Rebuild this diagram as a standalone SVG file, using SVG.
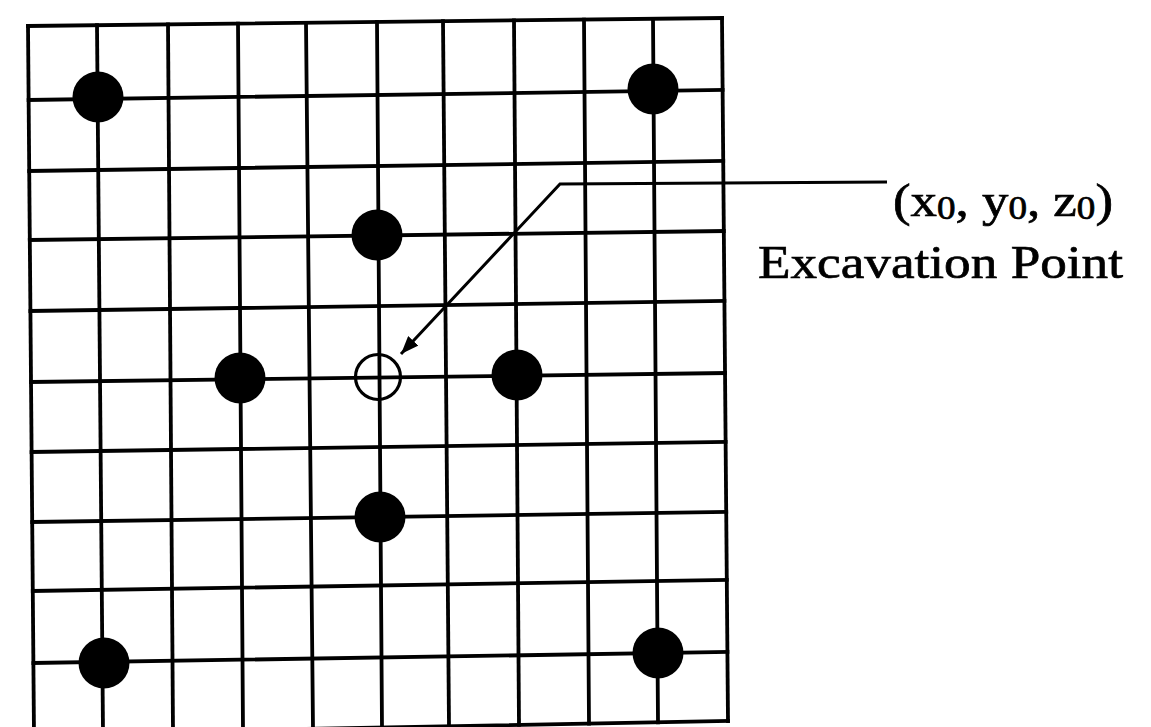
<svg xmlns="http://www.w3.org/2000/svg" width="1151" height="727" viewBox="0 0 1151 727">
<style>
.g{stroke:#000;stroke-width:3.8;stroke-linecap:square;fill:none}
.dot{fill:#000}
.open{fill:none;stroke:#000;stroke-width:3.2}
.lead{stroke:#000;stroke-width:3;fill:none}
.t{font-family:"Liberation Serif","Times New Roman",serif;font-size:47px;fill:#000;stroke:#000;stroke-width:0.7}
</style>
<defs>
<marker id="ah" viewBox="0 0 18 14" refX="18" refY="7" markerUnits="userSpaceOnUse" markerWidth="18" markerHeight="14" orient="auto">
<path d="M0,0 L18,7 L0,14 z" fill="#000"/>
</marker>
</defs>
<rect width="1151" height="727" fill="#fff"/>
<g id="grid" class="g">
<line x1="28" y1="26" x2="722" y2="18"/>
<line x1="28.6" y1="100" x2="722.6" y2="90"/>
<line x1="29.2" y1="171" x2="723.2" y2="161"/>
<line x1="29.8" y1="240" x2="723.8" y2="231"/>
<line x1="30.4" y1="311" x2="724.4" y2="301"/>
<line x1="31" y1="382" x2="725" y2="373"/>
<line x1="31.6" y1="452" x2="725.6" y2="442"/>
<line x1="32.2" y1="522" x2="726.2" y2="512"/>
<line x1="32.8" y1="591" x2="726.8" y2="580"/>
<line x1="33.4" y1="663" x2="727.4" y2="652"/>
<line x1="34" y1="734" x2="728" y2="721"/>
<line x1="28" y1="26" x2="34" y2="734"/>
<line x1="97" y1="25.2" x2="103" y2="732.7"/>
<line x1="168" y1="24.4" x2="173" y2="731.4"/>
<line x1="238" y1="23.6" x2="243" y2="730.1"/>
<line x1="306" y1="22.8" x2="313" y2="728.8"/>
<line x1="377" y1="22" x2="382" y2="727.5"/>
<line x1="443" y1="21.2" x2="449" y2="726.2"/>
<line x1="514" y1="20.4" x2="519" y2="724.9"/>
<line x1="584" y1="19.6" x2="589" y2="723.6"/>
<line x1="653" y1="18.8" x2="658" y2="722.3"/>
<line x1="722" y1="18" x2="728" y2="721"/>
</g>
<g id="points">
<circle class="dot" cx="98" cy="97" r="25.5"/>
<circle class="dot" cx="653" cy="89" r="25.5"/>
<circle class="dot" cx="377" cy="235" r="25.5"/>
<circle class="dot" cx="240" cy="378" r="25.5"/>
<circle class="dot" cx="517" cy="375" r="25.5"/>
<circle class="dot" cx="380" cy="517" r="25.5"/>
<circle class="dot" cx="104" cy="663" r="25.5"/>
<circle class="dot" cx="658" cy="653" r="25.5"/>
</g>
<g id="excavation-point">
<circle class="open" cx="378" cy="377" r="22.5"/>
</g>
<g id="connectors">
<path class="lead" d="M887,182 L560,184 L401,354" marker-end="url(#ah)"/>
</g>
<g id="label">
<text class="t" x="893" y="216" textLength="220" lengthAdjust="spacingAndGlyphs">(x<tspan font-size="33" dy="3">0</tspan><tspan dy="-3">, y</tspan><tspan font-size="33" dy="3">0</tspan><tspan dy="-3">, z</tspan><tspan font-size="33" dy="3">0</tspan><tspan dy="-3">)</tspan></text>
<text class="t" x="758" y="278" textLength="365" lengthAdjust="spacingAndGlyphs">Excavation Point</text>
</g>
</svg>
